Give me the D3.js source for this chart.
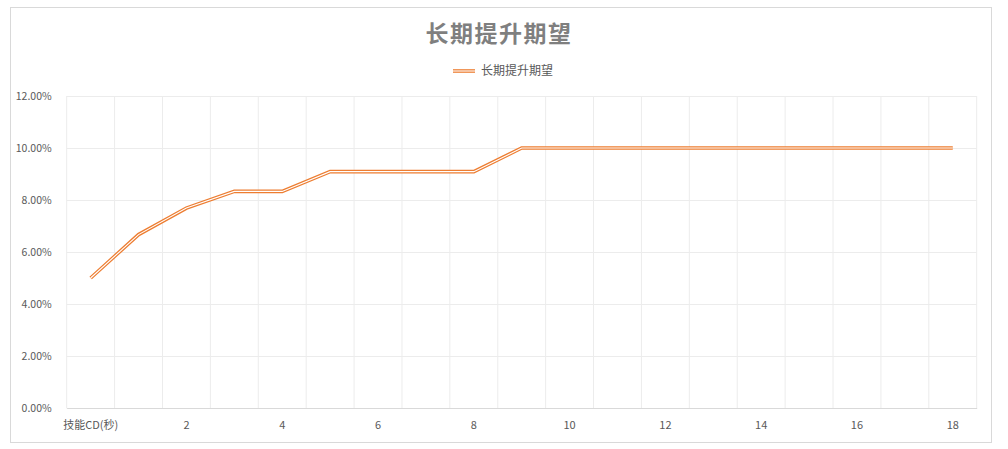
<!DOCTYPE html>
<html><head><meta charset="utf-8">
<script src="https://cdn.jsdelivr.net/npm/d3@7"></script>
<style>body{margin:0;background:#fff;} text{font-family:"Microsoft YaHei","Noto Sans CJK SC",sans-serif;}</style>
</head><body><svg id="c" width="1008" height="449"></svg>
<script>
const title = "长期提升期望";
const seriesName = "长期提升期望";
const categories = ["技能CD(秒)","1","2","3","4","5","6","7","8","9","10","11","12","13","14","15","16","17","18"];
const values = [0.05,0.0667,0.0769,0.0833,0.0833,0.0909,0.0909,0.0909,0.0909,0.10,0.10,0.10,0.10,0.10,0.10,0.10,0.10,0.10,0.10];
const yTicks = [0,0.02,0.04,0.06,0.08,0.10,0.12];

const svg = d3.select("#c");
svg.append("rect").attr("x",10.5).attr("y",7.5).attr("width",981).attr("height",435)
  .attr("fill","#fff").attr("stroke","#d9d9d9");

const L=66.7,R=976.7,T=96,B=408;
const x = d3.scaleBand().domain(categories).range([L,R]);
const y = d3.scaleLinear().domain([0,0.12]).range([B,T]);

const g = svg.append("g");
g.append("g").attr("transform",`translate(${L},0)`)
  .call(d3.axisLeft(y).tickValues(yTicks).tickSize(-(R-L)).tickFormat(""))
  .call(s=>s.select(".domain").remove())
  .call(s=>s.selectAll("line").attr("stroke","#ececec"));
g.selectAll("line.vg").data(categories).enter().append("line")
  .attr("x1",d=>x(d)+x.bandwidth()).attr("x2",d=>x(d)+x.bandwidth())
  .attr("y1",T).attr("y2",B).attr("stroke","#ececec");
g.append("line").attr("x1",L).attr("x2",L).attr("y1",T).attr("y2",B).attr("stroke","#ececec");

const ya = g.append("g").attr("transform",`translate(${L-12},0)`)
  .call(d3.axisLeft(y).tickValues(yTicks).tickSize(0).tickFormat(d=>(d*100).toFixed(2)+"%"));
ya.select(".domain").remove();
ya.selectAll("text").attr("fill","#595959").style("font-size","10.5px").attr("dy","0.35em");

const xa = g.append("g").attr("transform",`translate(0,${B})`)
  .call(d3.axisBottom(x).tickSize(0).tickFormat((d,i)=>i%2===0?d:""));
xa.select(".domain").attr("stroke","#d9d9d9");
xa.selectAll("text").attr("fill","#595959").style("font-size","11px").attr("dy","1.6em");

const line = d3.line().x((d,i)=>x(categories[i])+x.bandwidth()/2).y(d=>y(d));
g.append("path").datum(values).attr("d",line).attr("fill","none").attr("stroke","#ED7D31").attr("stroke-width",3.6);
g.append("path").datum(values).attr("d",line).attr("fill","none").attr("stroke","#fff").attr("stroke-width",1.1);

svg.append("text").attr("x",499).attr("y",42).attr("text-anchor","middle")
  .attr("fill","#7f7f7f").style("font-size","23px").style("font-weight","bold").style("letter-spacing","1.5px").text(title);
svg.append("line").attr("x1",453).attr("x2",475).attr("y1",71).attr("y2",71).attr("stroke","#ED7D31").attr("stroke-width",3.6);
svg.append("line").attr("x1",453).attr("x2",475).attr("y1",71).attr("y2",71).attr("stroke","#fff").attr("stroke-width",1.1);
svg.append("text").attr("x",481).attr("y",75).attr("fill","#595959").style("font-size","12px").text(seriesName);
</script></body></html>
